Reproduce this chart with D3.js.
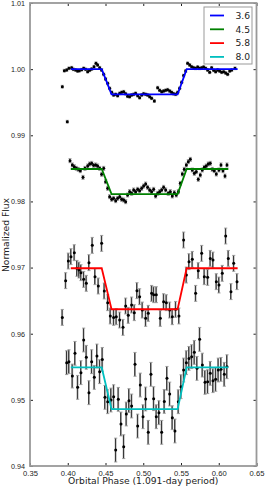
<!DOCTYPE html>
<html>
<head>
<meta charset="utf-8">
<script src="https://cdn.jsdelivr.net/npm/d3@7"></script>
<style>
  body { margin: 0; background: #fff; }
  svg { display: block; font-family: "DejaVu Sans", sans-serif; }
  .tick text { fill: #222; }
</style>
</head>
<body>
<svg></svg>
<script>
const svg = d3.select('svg')
	.attr('width', 266)
	.attr('height', 488)

// bands and their model levels
const bands = ['3.6', '4.5', '5.8', '8.0'];
const bandColors = ['#0000ff', '#008000', '#ff0000', '#00bfbf'];
const modelTop = [1.0000, 0.9849, 0.9699, 0.9549];
const modelBottom = [0.9962, 0.9811, 0.9637, 0.9486];
const modelPhase = [0.404, 0.445, 0.458, 0.5455, 0.5575];
const modelEnd = [0.625, 0.6127, 0.625, 0.6127];

const xTicks = [0.35, 0.40, 0.45, 0.50, 0.55, 0.60, 0.65];
const yTicks = [0.94, 0.95, 0.96, 0.97, 0.98, 0.99, 1.00, 1.01];

// [phase, flux, error]
const data36 = [
	[0.3928, 0.99735, 0.0002], [0.3955, 0.99977, 0.0002], [0.3986, 0.99987, 0.0002], [0.3994, 0.99206, 0.0002],
	[0.4016, 1.00012, 0.0002], [0.4052, 1.00022, 0.0002], [0.4074, 0.99997, 0.0002], [0.4105, 0.99987, 0.0002],
	[0.4131, 0.99972, 0.0002], [0.4153, 0.99977, 0.0002], [0.4184, 0.99992, 0.0002], [0.4211, 1.00012, 0.0002],
	[0.4237, 0.99997, 0.0002], [0.4264, 0.99962, 0.0002], [0.4290, 0.99982, 0.0002], [0.4317, 1.00002, 0.0002],
	[0.4348, 1.00037, 0.0002], [0.4374, 1.00088, 0.0002], [0.4396, 1.00063, 0.0002], [0.4423, 1.00022, 0.0002],
	[0.4449, 0.99987, 0.0002], [0.4476, 0.99921, 0.0002], [0.4502, 0.99851, 0.0002], [0.4529, 0.99785, 0.0002],
	[0.4555, 0.99710, 0.0002], [0.4582, 0.99649, 0.0002], [0.4608, 0.99609, 0.0002], [0.4635, 0.99619, 0.0002],
	[0.4661, 0.99599, 0.0002], [0.4688, 0.99634, 0.0002], [0.4714, 0.99649, 0.0002], [0.4741, 0.99659, 0.0002],
	[0.4767, 0.99629, 0.0002], [0.4793, 0.99589, 0.0002], [0.4820, 0.99584, 0.0002], [0.4846, 0.99609, 0.0002],
	[0.4873, 0.99619, 0.0002], [0.4899, 0.99634, 0.0002], [0.4926, 0.99599, 0.0002], [0.4952, 0.99569, 0.0002],
	[0.4979, 0.99609, 0.0002], [0.5005, 0.99629, 0.0002], [0.5032, 0.99619, 0.0002], [0.5058, 0.99609, 0.0002],
	[0.5085, 0.99584, 0.0002], [0.5111, 0.99559, 0.0002], [0.5147, 0.99518, 0.0002], [0.5191, 0.99720, 0.0002],
	[0.5217, 0.99680, 0.0002], [0.5244, 0.99659, 0.0002], [0.5270, 0.99670, 0.0002], [0.5297, 0.99680, 0.0002],
	[0.5323, 0.99690, 0.0002], [0.5350, 0.99670, 0.0002], [0.5376, 0.99649, 0.0002], [0.5403, 0.99629, 0.0002],
	[0.5429, 0.99619, 0.0002], [0.5456, 0.99649, 0.0002], [0.5482, 0.99710, 0.0002], [0.5509, 0.99801, 0.0002],
	[0.5535, 0.99903, 0.0002], [0.5562, 0.99972, 0.0002], [0.5588, 1.00088, 0.0002], [0.5615, 1.00063, 0.0002],
	[0.5641, 1.00037, 0.0002], [0.5668, 1.00022, 0.0002], [0.5694, 1.00012, 0.0002], [0.5721, 1.00032, 0.0002],
	[0.5747, 1.00012, 0.0002], [0.5774, 1.00022, 0.0002], [0.5800, 1.00032, 0.0002], [0.5827, 1.00012, 0.0002],
	[0.5853, 0.99987, 0.0002], [0.5880, 0.99952, 0.0002], [0.5906, 1.00022, 0.0002], [0.5933, 0.99982, 0.0002],
	[0.5959, 0.99962, 0.0002], [0.5986, 0.99987, 0.0002], [0.6012, 0.99972, 0.0002], [0.6039, 0.99952, 0.0002],
	[0.6065, 0.99962, 0.0002], [0.6092, 0.99942, 0.0002], [0.6118, 0.99921, 0.0002], [0.6145, 0.99972, 0.0002],
	[0.6171, 0.99987, 0.0002], [0.6215, 1.00012, 0.0002]
];

const data45 = [
	[0.4030, 0.98616, 0.0003], [0.4061, 0.98551, 0.0003], [0.4087, 0.98525, 0.0003], [0.4114, 0.98500, 0.0003],
	[0.4140, 0.98485, 0.0003], [0.4167, 0.98465, 0.0003], [0.4202, 0.98364, 0.0003], [0.4228, 0.98500, 0.0003],
	[0.4264, 0.98536, 0.0003], [0.4290, 0.98566, 0.0003], [0.4317, 0.98576, 0.0003], [0.4343, 0.98546, 0.0003],
	[0.4370, 0.98551, 0.0003], [0.4396, 0.98536, 0.0003], [0.4423, 0.98500, 0.0003], [0.4449, 0.98410, 0.0003],
	[0.4476, 0.98500, 0.0003], [0.4502, 0.98299, 0.0003], [0.4529, 0.98198, 0.0003], [0.4555, 0.98072, 0.0003],
	[0.4582, 0.98032, 0.0003], [0.4608, 0.98047, 0.0003], [0.4635, 0.98011, 0.0003], [0.4661, 0.98047, 0.0003],
	[0.4688, 0.98072, 0.0003], [0.4714, 0.98032, 0.0003], [0.4741, 0.98021, 0.0003], [0.4767, 0.97996, 0.0003],
	[0.4793, 0.98097, 0.0003], [0.4820, 0.98148, 0.0003], [0.4846, 0.98122, 0.0003], [0.4873, 0.98173, 0.0003],
	[0.4899, 0.98148, 0.0003], [0.4926, 0.98183, 0.0003], [0.4952, 0.98163, 0.0003], [0.4979, 0.98198, 0.0003],
	[0.5005, 0.98233, 0.0003], [0.5032, 0.98263, 0.0003], [0.5058, 0.98213, 0.0003], [0.5085, 0.98173, 0.0003],
	[0.5111, 0.98148, 0.0003], [0.5138, 0.98183, 0.0003], [0.5164, 0.98082, 0.0003], [0.5191, 0.98122, 0.0003],
	[0.5217, 0.98148, 0.0003], [0.5244, 0.98173, 0.0003], [0.5270, 0.98213, 0.0003], [0.5297, 0.98173, 0.0003],
	[0.5332, 0.98122, 0.0003], [0.5359, 0.98148, 0.0003], [0.5385, 0.98082, 0.0003], [0.5412, 0.98132, 0.0003],
	[0.5438, 0.98097, 0.0003], [0.5465, 0.98148, 0.0003], [0.5491, 0.98273, 0.0003], [0.5518, 0.98414, 0.0003],
	[0.5544, 0.98485, 0.0003], [0.5571, 0.98551, 0.0003], [0.5597, 0.98601, 0.0003], [0.5624, 0.98636, 0.0003],
	[0.5650, 0.98475, 0.0003], [0.5677, 0.98425, 0.0003], [0.5703, 0.98450, 0.0003], [0.5729, 0.98334, 0.0003],
	[0.5756, 0.98399, 0.0003], [0.5782, 0.98475, 0.0003], [0.5809, 0.98515, 0.0003], [0.5835, 0.98536, 0.0003],
	[0.5862, 0.98566, 0.0003], [0.5888, 0.98576, 0.0003], [0.5915, 0.98485, 0.0003], [0.5941, 0.98465, 0.0003],
	[0.5968, 0.98414, 0.0003], [0.6003, 0.98475, 0.0003], [0.6030, 0.98551, 0.0003], [0.6056, 0.98465, 0.0003],
	[0.6083, 0.98384, 0.0003], [0.6109, 0.98551, 0.0003]
];

const data58 = [
	[0.3928, 0.96247, 0.0012], [0.3972, 0.96802, 0.0012], [0.4008, 0.97099, 0.0012], [0.4043, 0.97165, 0.0012],
	[0.4087, 0.97225, 0.0012], [0.4122, 0.96988, 0.0012], [0.4149, 0.96963, 0.0012], [0.4175, 0.96923, 0.0012],
	[0.4211, 0.96822, 0.0012], [0.4246, 0.96762, 0.0012], [0.4281, 0.97074, 0.0012], [0.4325, 0.97336, 0.0012],
	[0.4361, 0.96862, 0.0012], [0.4405, 0.96721, 0.0012], [0.4449, 0.97366, 0.0012], [0.4484, 0.96646, 0.0012],
	[0.4529, 0.96469, 0.0012], [0.4564, 0.96268, 0.0012], [0.4608, 0.96247, 0.0012], [0.4643, 0.96257, 0.0012],
	[0.4688, 0.96207, 0.0012], [0.4732, 0.96096, 0.0012], [0.4767, 0.96419, 0.0012], [0.4802, 0.96278, 0.0012],
	[0.4846, 0.96434, 0.0012], [0.4882, 0.96318, 0.0012], [0.4917, 0.96651, 0.0012], [0.4952, 0.96560, 0.0012],
	[0.4988, 0.96358, 0.0012], [0.5032, 0.96232, 0.0012], [0.5067, 0.96308, 0.0012], [0.5111, 0.96610, 0.0012],
	[0.5138, 0.96590, 0.0012], [0.5173, 0.96590, 0.0012], [0.5226, 0.96232, 0.0012], [0.5270, 0.96484, 0.0012],
	[0.5306, 0.96469, 0.0012], [0.5350, 0.96358, 0.0012], [0.5385, 0.96257, 0.0012], [0.5429, 0.96368, 0.0012],
	[0.5473, 0.96268, 0.0012], [0.5535, 0.97417, 0.0012], [0.5571, 0.96887, 0.0012], [0.5606, 0.97089, 0.0012],
	[0.5650, 0.97124, 0.0012], [0.5694, 0.96610, 0.0012], [0.5729, 0.96953, 0.0012], [0.5774, 0.97215, 0.0012],
	[0.5809, 0.96862, 0.0012], [0.5853, 0.96852, 0.0012], [0.5888, 0.97139, 0.0012], [0.5924, 0.97114, 0.0012],
	[0.5968, 0.96787, 0.0012], [0.6003, 0.96736, 0.0012], [0.6047, 0.96913, 0.0012], [0.6092, 0.97477, 0.0012],
	[0.6127, 0.97139, 0.0012], [0.6162, 0.96636, 0.0012], [0.6198, 0.97064, 0.0012], [0.6242, 0.96787, 0.0012]
];

const data80 = [
	[0.3986, 0.95562, 0.0018], [0.4016, 0.95577, 0.0018], [0.4061, 0.95360, 0.0018], [0.4096, 0.95703, 0.0018],
	[0.4131, 0.95189, 0.0018], [0.4175, 0.95411, 0.0018], [0.4211, 0.95905, 0.0018], [0.4246, 0.95643, 0.0018],
	[0.4281, 0.95108, 0.0018], [0.4317, 0.95577, 0.0018], [0.4352, 0.95340, 0.0018], [0.4387, 0.95663, 0.0018],
	[0.4423, 0.95426, 0.0018], [0.4458, 0.95612, 0.0018], [0.4493, 0.95038, 0.0018], [0.4529, 0.94972, 0.0018],
	[0.4573, 0.94997, 0.0018], [0.4608, 0.95048, 0.0018], [0.4635, 0.94241, 0.0018], [0.4670, 0.95008, 0.0018],
	[0.4705, 0.94635, 0.0018], [0.4741, 0.94292, 0.0018], [0.4776, 0.94786, 0.0018], [0.4811, 0.94988, 0.0018],
	[0.4846, 0.94907, 0.0018], [0.4891, 0.95537, 0.0018], [0.4926, 0.94604, 0.0018], [0.4961, 0.95224, 0.0018],
	[0.4997, 0.94745, 0.0018], [0.5032, 0.95013, 0.0018], [0.5067, 0.94509, 0.0018], [0.5102, 0.95386, 0.0018],
	[0.5138, 0.95018, 0.0018], [0.5173, 0.94745, 0.0018], [0.5208, 0.94806, 0.0018], [0.5244, 0.94509, 0.0018],
	[0.5279, 0.94977, 0.0018], [0.5314, 0.95325, 0.0018], [0.5350, 0.95088, 0.0018], [0.5385, 0.94730, 0.0018],
	[0.5420, 0.94529, 0.0018], [0.5465, 0.94972, 0.0018], [0.5500, 0.95199, 0.0018], [0.5535, 0.95451, 0.0018],
	[0.5571, 0.95562, 0.0018], [0.5606, 0.95627, 0.0018], [0.5641, 0.95653, 0.0018], [0.5677, 0.95718, 0.0018],
	[0.5712, 0.95476, 0.0018], [0.5747, 0.95915, 0.0018], [0.5783, 0.95526, 0.0018], [0.5818, 0.95265, 0.0018],
	[0.5853, 0.95275, 0.0018], [0.5888, 0.95401, 0.0018], [0.5924, 0.95290, 0.0018], [0.5959, 0.95310, 0.0018],
	[0.5994, 0.95451, 0.0018], [0.6030, 0.95461, 0.0018], [0.6074, 0.95386, 0.0018], [0.6109, 0.95501, 0.0018]
];

const allData = [data36, data45, data58, data80];

let margin = { top: 3, right: 9.5, bottom: 22, left: 30 },
	width = 266,
	height = 488,
	innerWidth = width - margin.left - margin.right,
	innerHeight = height - margin.top - margin.bottom;

const xScale = d3.scaleLinear()
	.domain([0.35, 0.65])
	.range([margin.left, margin.left + innerWidth]);

const yScale = d3.scaleLinear()
	.domain([0.94, 1.01])
	.range([margin.top + innerHeight, margin.top]);

// error bars and points
allData.forEach((data, i) => {
	const g = svg.append('g').attr('class', 'band-' + bands[i]);
	g.selectAll('.eb-halo')
		.data(data)
		.enter().append('line')
		.attr('x1', d => xScale(d[0]))
		.attr('x2', d => xScale(d[0]))
		.attr('y1', d => yScale(d[1] - d[2]))
		.attr('y2', d => yScale(d[1] + d[2]))
		.attr('stroke', '#999')
		.attr('stroke-width', 1.6);
	g.selectAll('.eb')
		.data(data)
		.enter().append('line')
		.attr('x1', d => xScale(d[0]) - 0.3)
		.attr('x2', d => xScale(d[0]) - 0.3)
		.attr('y1', d => yScale(d[1] - d[2]))
		.attr('y2', d => yScale(d[1] + d[2]))
		.attr('stroke', '#111')
		.attr('stroke-width', 0.8);
	['top', 'bot'].forEach(k => {
		g.selectAll('.cap-' + k)
			.data(data)
			.enter().append('line')
			.attr('x1', d => xScale(d[0]) - 1.6)
			.attr('x2', d => xScale(d[0]) + 1.6)
			.attr('y1', d => yScale(k == 'top' ? d[1] + d[2] : d[1] - d[2]))
			.attr('y2', d => yScale(k == 'top' ? d[1] + d[2] : d[1] - d[2]))
			.attr('stroke', '#999')
			.attr('stroke-width', 0.9);
	});
	g.selectAll('circle')
		.data(data)
		.enter().append('circle')
		.attr('cx', d => xScale(d[0]))
		.attr('cy', d => yScale(d[1]))
		.attr('r', 1.5)
		.attr('fill', '#000');
});

// transit models
const lineGenerator = d3.line()
	.x(d => xScale(d[0]))
	.y(d => yScale(d[1]));

bands.forEach((b, i) => {
	const lv = [modelTop[i], modelTop[i], modelBottom[i], modelBottom[i], modelTop[i]];
	const pts = modelPhase.map((p, j) => [p, lv[j]]);
	pts.push([modelEnd[i], modelTop[i]]);
	svg.append('path')
		.attr('d', lineGenerator(pts))
		.attr('fill', 'none')
		.attr('stroke', bandColors[i])
		.attr('stroke-width', 1.8);
});

// axes
const fmt = d3.format('.2f');
svg.append('g')
	.attr('transform', `translate(0, ${margin.top + innerHeight})`)
	.call(d3.axisBottom(xScale).tickValues(xTicks).tickFormat(fmt).tickSizeInner(-3).tickSizeOuter(0).tickPadding(5))
	.call(g => g.select('.domain').remove())
	.selectAll('text').attr('font-size', 7.6);
svg.append('g')
	.attr('transform', `translate(0, ${margin.top})`)
	.call(d3.axisTop(xScale).tickValues(xTicks).tickSizeInner(-3).tickSizeOuter(0))
	.call(g => g.select('.domain').remove())
	.call(g => g.selectAll('text').remove());
svg.append('g')
	.attr('transform', `translate(${margin.left}, 0)`)
	.call(d3.axisLeft(yScale).tickValues(yTicks).tickFormat(fmt).tickSizeInner(-3).tickSizeOuter(0).tickPadding(5))
	.call(g => g.select('.domain').remove())
	.selectAll('text').attr('font-size', 7.2);
svg.append('g')
	.attr('transform', `translate(${margin.left + innerWidth}, 0)`)
	.call(d3.axisRight(yScale).tickValues(yTicks).tickSizeInner(-3).tickSizeOuter(0))
	.call(g => g.select('.domain').remove())
	.call(g => g.selectAll('text').remove());

svg.selectAll('.tick line').attr('stroke', '#222');

svg.append('rect')
	.attr('x', margin.left)
	.attr('y', margin.top)
	.attr('width', innerWidth)
	.attr('height', innerHeight)
	.attr('fill', 'none')
	.attr('stroke', '#999')
	.attr('stroke-width', 1.8);

svg.append('text')
	.attr('x', margin.left + innerWidth / 2)
	.attr('y', 484)
	.attr('text-anchor', 'middle')
	.attr('font-size', 9.2)
	.attr('fill', '#222')
	.text('Orbital Phase (1.091-day period)');

svg.append('text')
	.attr('transform', 'translate(9, 235) rotate(-90)')
	.attr('text-anchor', 'middle')
	.attr('font-size', 9.2)
	.attr('fill', '#222')
	.text('Normalized Flux');

// legend
const legend = svg.append('g').attr('transform', 'translate(204, 7)');
legend.append('rect')
	.attr('width', 48)
	.attr('height', 57)
	.attr('fill', '#fff')
	.attr('stroke', '#999')
	.attr('stroke-width', 1);
bands.forEach((b, i) => {
	const row = legend.append('g').attr('transform', `translate(0, ${8.5 + i * 13.8})`);
	row.append('line')
		.attr('x1', 6).attr('x2', 20)
		.attr('stroke', bandColors[i])
		.attr('stroke-width', 1.8);
	row.append('text')
		.attr('x', 46)
		.attr('dy', '0.35em')
		.attr('text-anchor', 'end')
		.attr('font-size', 9.2)
		.attr('fill', '#222')
		.text(b);
});
</script>
</body>
</html>
